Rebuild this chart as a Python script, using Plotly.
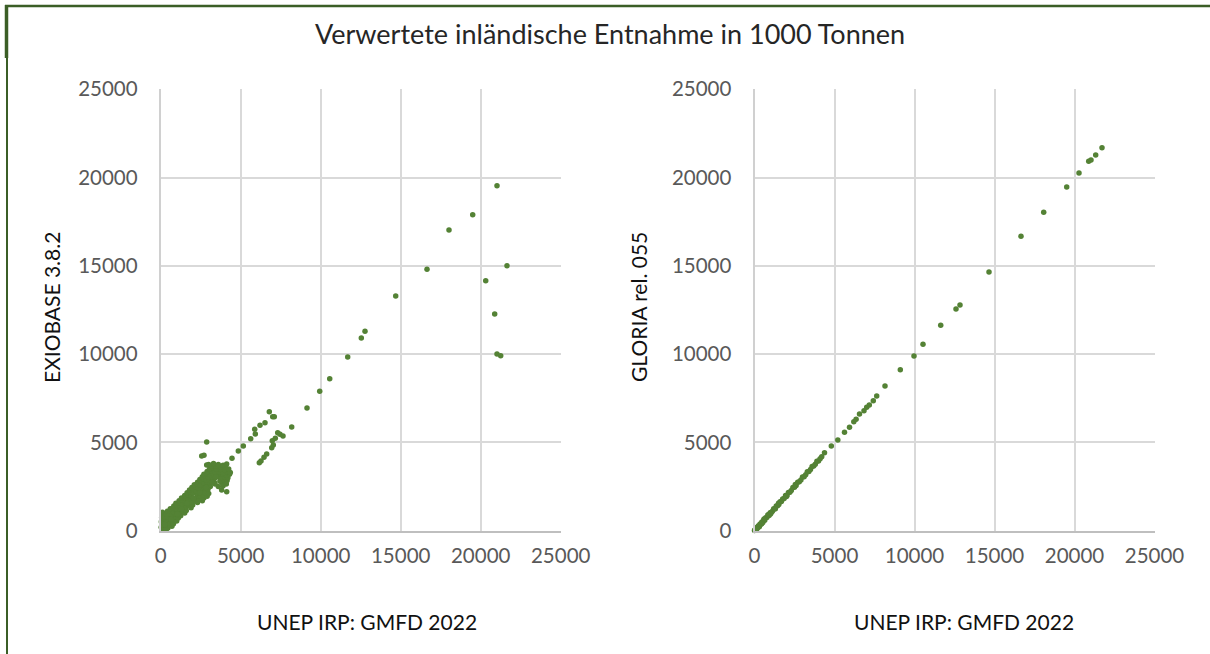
import plotly.graph_objects as go

# ---------------- data (1000 t) ----------------
# Left panel: UNEP IRP GMFD 2022 (x) vs EXIOBASE 3.8.2 (y)
exio_x = [
    # dense cluster
    30, 150, 300, 450, 80, 200, 350, 500,
    100, 250, 400, 600, 700,
    40, 120, 250, 400, 550, 700, 800,
    200, 350, 500, 650, 850, 1000,
    60, 90, 110, 140, 180,
    260, 420, 600, 780, 950, 1100,
    350, 550, 700, 900, 1100, 1250,
    420, 600, 800, 1000, 1200, 1400, 1500,
    600, 800, 1000, 1200, 1400, 1600,
    820, 1000, 1200, 1400, 1600, 1800, 1900,
    950, 1150, 1350, 1550, 1750, 2000,
    1150, 1350, 1550, 1750, 1950, 2150, 2300,
    1300, 1500, 1700, 1900, 2100, 2400, 2600,
    1500, 1700, 1900, 2300, 2500, 2700,
    1650, 1850, 2050, 2250, 2450, 2650, 2900,
    1800, 2000, 2200, 2400, 2600, 2800, 3000,
    1950, 2150, 2350, 2550, 2750, 2950,
    2100, 2300, 2500, 2700, 2900, 3100,
    2300, 2500, 2700, 2900, 3100, 3350, 3850, 4050,
    2450, 2650, 2850, 3050, 3250, 3700, 3950, 4150,
    2600, 2800, 3000, 3200, 3400, 3600, 3800, 4000, 4200,
    2700, 2900, 3100, 3300, 3500, 3700, 3900, 4100, 4300,
    2900, 3150, 3400, 3650, 3900, 4150, 4350,
    3050, 3300, 3500, 3750, 4000, 4250,
    3200, 3450, 3750, 4050,
    3000, 3300, 3600, 3900,
    3600, 3810, 3900, 4100, 3400, 4125,
    250, 650, 1050, 1300, 1650, 2050, 2450, 2850, 3200, 3450,
    # outliers
    2875, 2563, 2706, 2875, 4125, 4456, 4850, 5163, 5625, 5875, 5913,
    6206, 6519, 6788, 7000, 7100,
    6163, 6269, 6456, 6625, 6938, 7038, 6975, 7163, 7313, 7456, 7644,
    8188, 9144, 9938, 10563, 11688, 12538, 12769, 14688, 16644, 18019,
    19500, 21019, 21644, 20313, 20875, 21019, 21250,
]
exio_y = [
    200, 180, 220, 150, 100, 50, 80, 300,
    350, 330, 370, 300, 250,
    500, 550, 480, 520, 450, 500, 400,
    650, 630, 680, 600, 620, 550,
    750, 950, 1050, 850, 700,
    800, 780, 820, 760, 800, 720,
    950, 980, 920, 960, 900, 850,
    1100, 1150, 1080, 1120, 1050, 1100, 1000,
    1250, 1280, 1230, 1260, 1200, 1150,
    1400, 1450, 1380, 1420, 1350, 1400, 1300,
    1550, 1600, 1530, 1570, 1500, 1450,
    1700, 1750, 1680, 1720, 1650, 1700, 1600,
    1850, 1880, 1820, 1850, 1830, 1800, 1700,
    2000, 2050, 1980, 2000, 1950, 1850,
    2150, 2200, 2130, 2150, 2120, 2050, 1950,
    2300, 2350, 2280, 2300, 2250, 2150, 2100,
    2450, 2500, 2430, 2450, 2400, 2350,
    2600, 2650, 2580, 2600, 2550, 2500,
    2750, 2800, 2730, 2750, 2700, 2750, 2700, 2750,
    2900, 2950, 2880, 2900, 2850, 2800, 2900, 2850,
    3050, 3100, 3030, 3050, 3000, 3050, 3020, 3050, 3000,
    3200, 3250, 3180, 3200, 3150, 3250, 3200, 3150, 3200,
    3350, 3400, 3330, 3350, 3300, 3350, 3300,
    3500, 3550, 3480, 3500, 3450, 3500,
    3650, 3650, 3620, 3600,
    3750, 3800, 3750, 3700,
    2500, 2300, 2550, 2650, 2650, 2200,
    350, 650, 950, 1250, 1550, 1850, 2150, 2450, 2750, 3050,
    5024, 4231, 4270, 3721, 3778, 4100, 4514, 4797, 5211, 5743, 5477,
    5970, 6117, 6740, 6457, 6457,
    3851, 3948, 4157, 4344, 4701, 4854, 5097, 5233, 5550, 5460, 5364,
    5873, 6950, 7895, 8609, 9838, 10914, 11293, 13293, 14805, 17031,
    17900, 19540, 15010, 14160, 12273, 10008, 9912,
]

# Right panel: UNEP IRP GMFD 2022 (x) vs GLORIA rel. 055 (y)
glo_x = [
    0, 20, 50, 80, 120, 160, 200, 250, 300, 350, 400, 460, 520, 580, 640,
    700, 770, 840, 910, 980, 1050, 1120, 1200, 1280, 1360, 1440, 1520, 1600,
    1680, 1760, 1850, 1940, 2030, 2120, 2210, 2300, 2400, 2500, 2600, 2700,
    2800, 2900, 3000, 3100, 3200, 3300, 3400, 3500, 3600, 3700, 3800, 3900,
    4000, 4100, 4200,
    300, 600, 1000, 1500, 2000, 2550, 150, 450, 850, 1300,
    4375, 4800, 5207, 5625, 5938, 6207, 6350, 6563, 6844, 7013, 7175, 7425,
    7638, 8156, 9113, 9969, 10531, 11638, 12594, 12844, 14656, 16656, 18075,
    19513, 20281, 20888, 21031, 21325, 21719,
]
glo_y = [
    10, 40, 30, 110, 90, 190, 170, 280, 270, 380, 360, 490, 470, 610, 590,
    730, 750, 880, 860, 1010, 1030, 1100, 1240, 1250, 1400, 1420, 1490, 1640,
    1650, 1790, 1820, 1990, 2000, 2160, 2180, 2280, 2440, 2460, 2560, 2740,
    2770, 2870, 3040, 3050, 3170, 3340, 3360, 3470, 3640, 3660, 3770, 3940,
    3950, 4080, 4190,
    230, 660, 950, 1560, 1940, 2610, 110, 400, 900, 1240,
    4418, 4797, 5137, 5573, 5856, 6174, 6309, 6610, 6797, 6988, 7119, 7363,
    7629, 8196, 9119, 9894, 10557, 11633, 12556, 12783, 14652, 16674, 18033,
    19466, 20259, 20921, 20996, 21279, 21692,
]

tick_vals = [0, 5000, 10000, 15000, 20000, 25000]
tick_text = ["0", "5000", "10000", "15000", "20000", "25000"]

title_text = "Verwertete inländische Entnahme in 1000 Tonnen"
x_title = "UNEP IRP: GMFD 2022"
y_title_left = "EXIOBASE 3.8.2"
y_title_right = "GLORIA rel. 055"

# ---------------- figure ----------------
W, H = 1210, 654
GREEN = "#548235"
FONT = "Lato"

fig = go.Figure()
fig.add_trace(go.Scatter(x=exio_x, y=exio_y, mode="markers",
                         marker=dict(color=GREEN, size=5.5, line=dict(width=0)),
                         cliponaxis=False, xaxis="x", yaxis="y", showlegend=False))
fig.add_trace(go.Scatter(x=glo_x, y=glo_y, mode="markers",
                         marker=dict(color=GREEN, size=5.5, line=dict(width=0)),
                         cliponaxis=False, xaxis="x2", yaxis="y2", showlegend=False))

def px_x(p):
    return p / W

def px_y(p):
    return 1 - p / H

ydom = [px_y(530.7), px_y(89.3)]
xdom1 = [px_x(160.7), px_x(560.7)]
xdom2 = [px_x(754.5), px_x(1154.5)]

tickfont = dict(family=FONT, size=20.5, color="#595959")
common_x = dict(range=[0, 25000], tickvals=tick_vals, ticktext=tick_text,
                showgrid=True, gridcolor="#D9D9D9", gridwidth=2,
                zeroline=False, showline=True, linecolor="#BFBFBF", linewidth=2,
                ticks="", tickfont=tickfont, ticklabelstandoff=6, fixedrange=True,
                automargin=False)
common_y = dict(range=[0, 25000], tickvals=tick_vals, ticktext=tick_text,
                showgrid=True, gridcolor="#D9D9D9", gridwidth=2,
                zeroline=False, showline=True, linecolor="#D0D0D0", linewidth=2,
                ticks="", tickfont=tickfont, ticklabelstandoff=17, fixedrange=True,
                automargin=False)

fig.update_layout(
    width=W, height=H, autosize=False,
    margin=dict(l=0, r=0, t=0, b=0, pad=0, autoexpand=False),
    paper_bgcolor="white", plot_bgcolor="white",
    xaxis=dict(domain=xdom1, anchor="y", **common_x),
    yaxis=dict(domain=ydom, anchor="x", **common_y),
    xaxis2=dict(domain=xdom2, anchor="y2", **common_x),
    yaxis2=dict(domain=ydom, anchor="x2", **common_y),
    showlegend=False,
    hovermode=False,
)

ann_font = dict(family=FONT, size=21, color="#111111")
annotations = [
    dict(text=title_text, x=px_x(610), y=px_y(33), xref="paper", yref="paper",
         xanchor="center", yanchor="middle", showarrow=False,
         font=dict(family=FONT, size=27, color="#262626")),
    dict(text=x_title, x=px_x(367), y=px_y(621), xref="paper", yref="paper",
         xanchor="center", yanchor="middle", showarrow=False, font=ann_font),
    dict(text=x_title, x=px_x(964), y=px_y(621), xref="paper", yref="paper",
         xanchor="center", yanchor="middle", showarrow=False, font=ann_font),
    dict(text=y_title_left, x=px_x(51), y=px_y(307), xref="paper", yref="paper",
         xanchor="center", yanchor="middle", showarrow=False, textangle=-90, font=ann_font),
    dict(text=y_title_right, x=px_x(638), y=px_y(307), xref="paper", yref="paper",
         xanchor="center", yanchor="middle", showarrow=False, textangle=-90, font=ann_font),
]
fig.update_layout(annotations=annotations)

BORDER = "#3B5E26"
shapes = [
    dict(type="line", xref="paper", yref="paper", x0=px_x(5), x1=1, y0=px_y(6), y1=px_y(6),
         line=dict(color=BORDER, width=2.5)),
    dict(type="line", xref="paper", yref="paper", x0=px_x(6.5), x1=px_x(6.5), y0=px_y(5), y1=px_y(58),
         line=dict(color=BORDER, width=3.5)),
    dict(type="line", xref="paper", yref="paper", x0=px_x(7), x1=px_x(7), y0=px_y(58), y1=0,
         line=dict(color=BORDER, width=2)),
]
fig.update_layout(shapes=shapes)

fig.write_html(
    "out.html",
    config={"displayModeBar": False, "staticPlot": True},
    post_script="document.body.style.margin='0';document.body.style.overflow='hidden';",
)
